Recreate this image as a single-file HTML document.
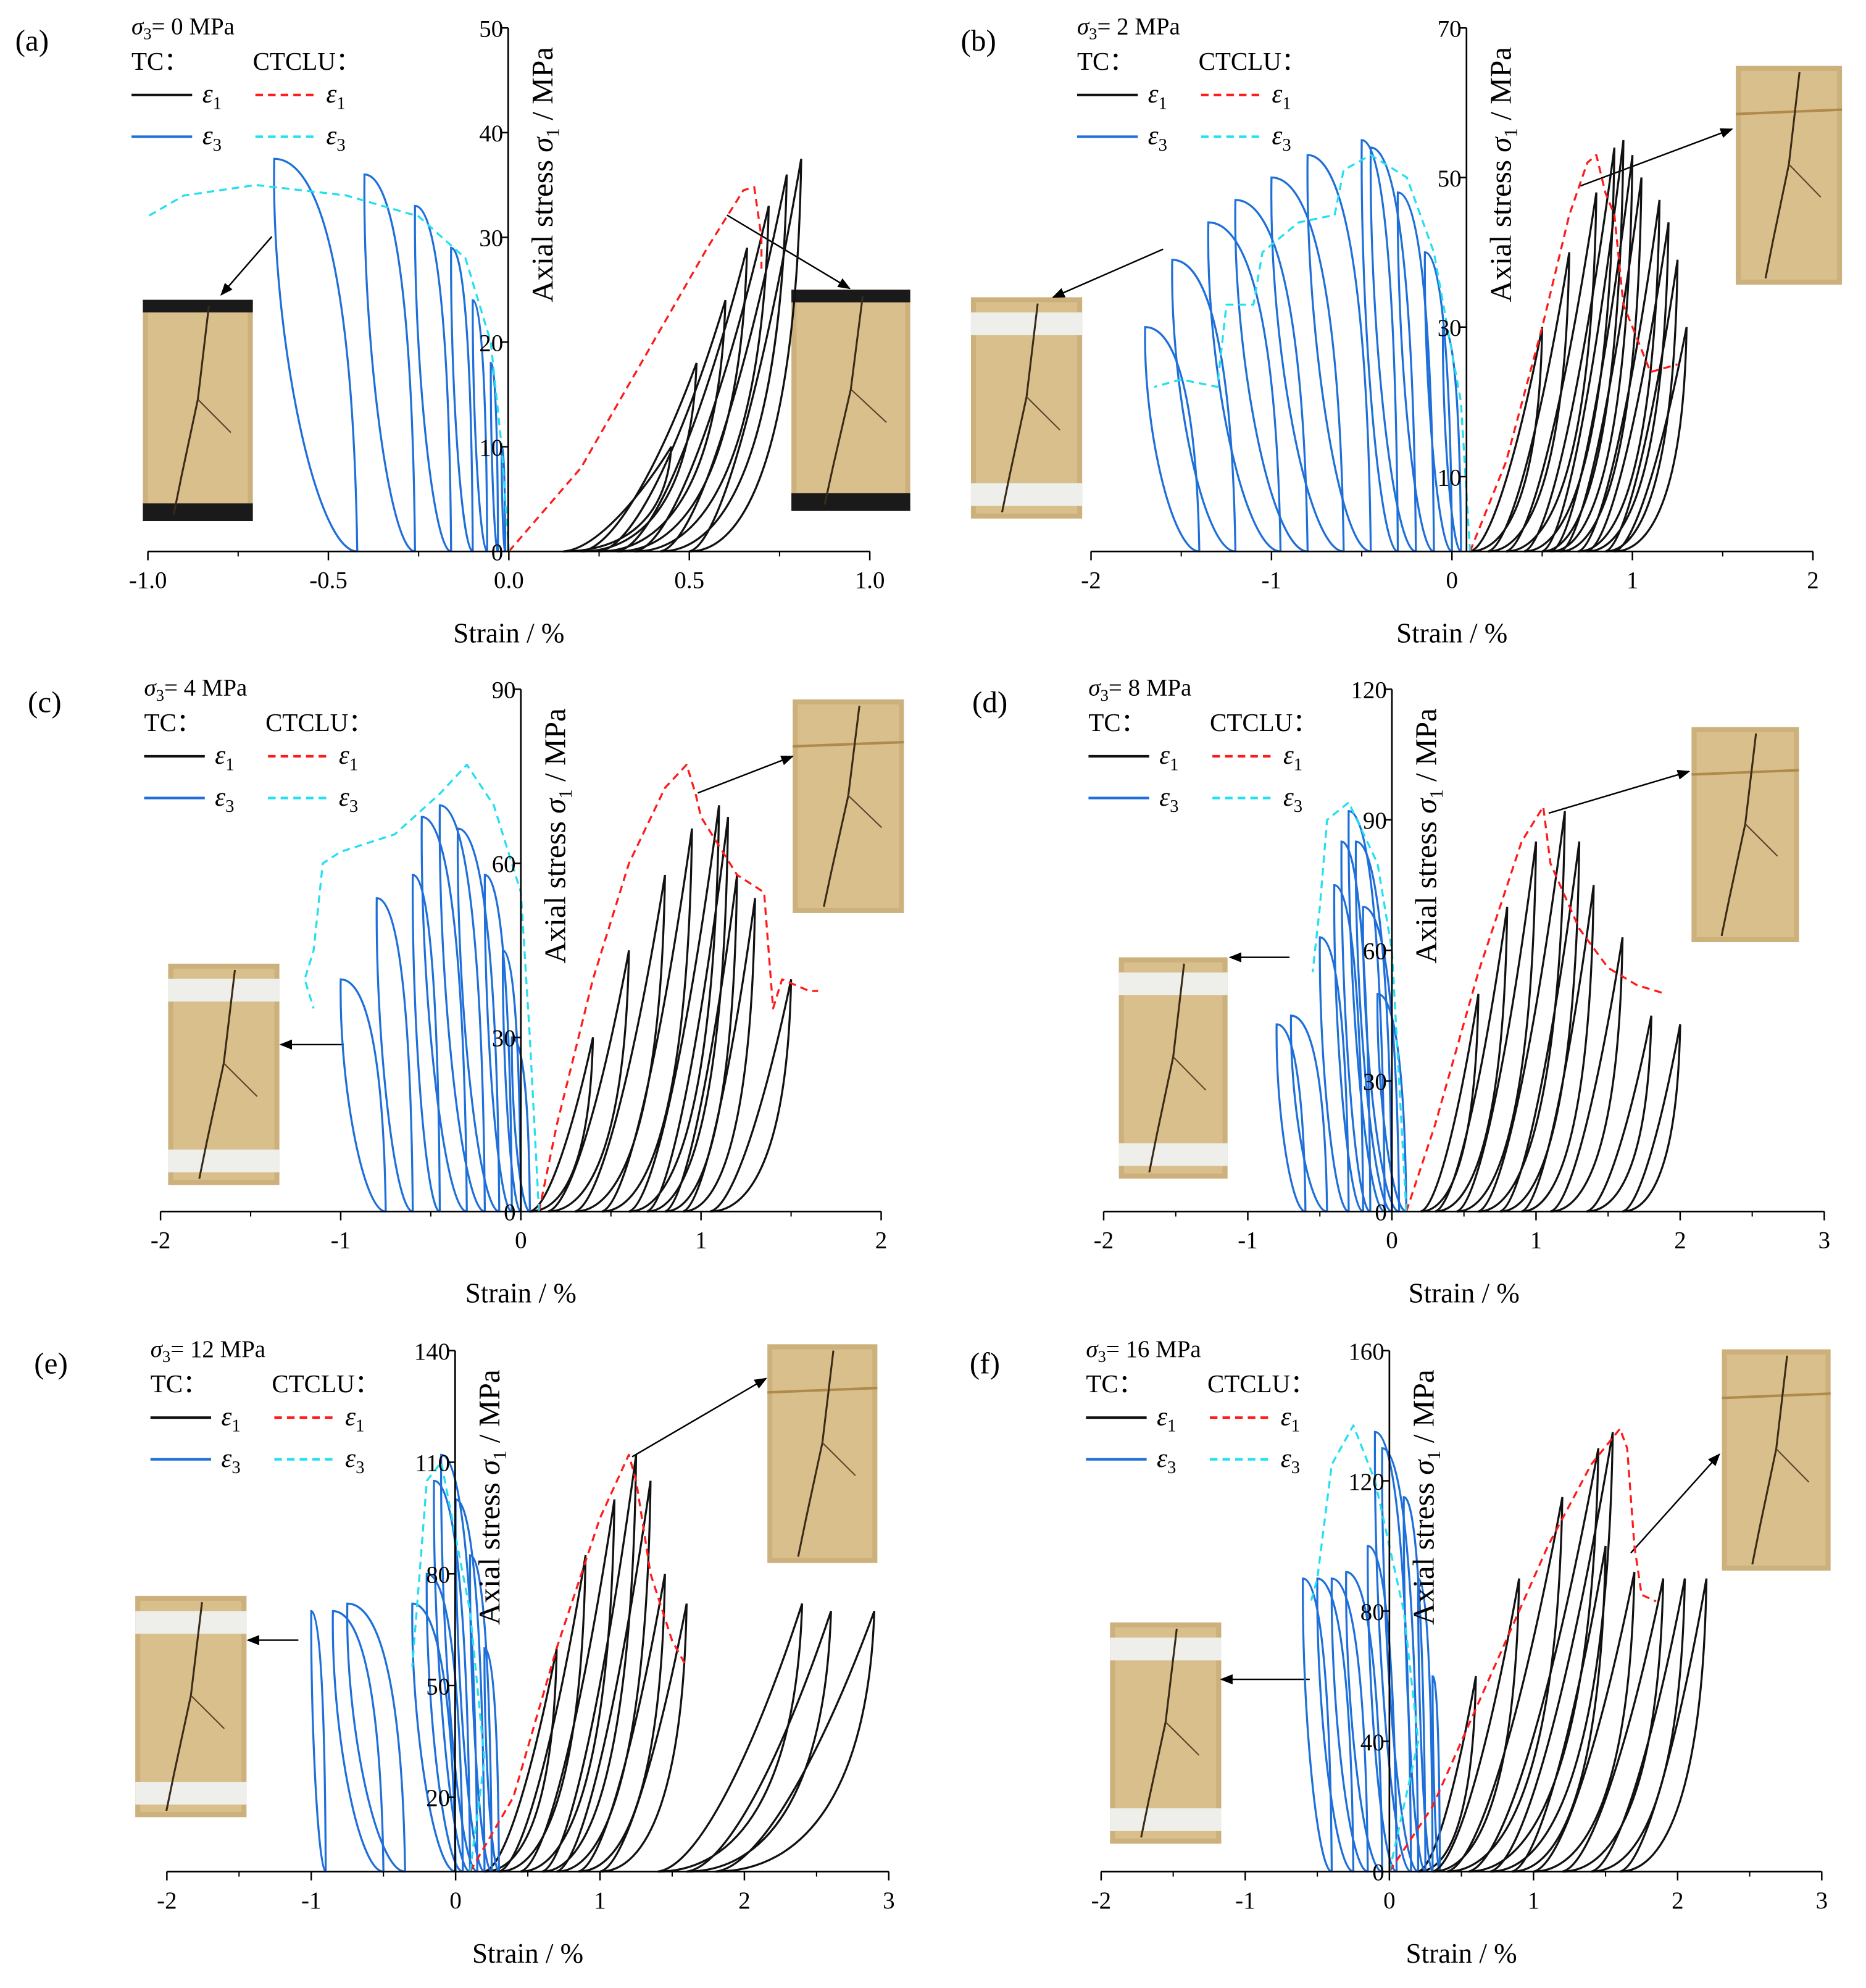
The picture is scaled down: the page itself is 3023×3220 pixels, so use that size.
<!DOCTYPE html>
<html><head><meta charset="utf-8"><style>
html,body{margin:0;padding:0;background:#fff}
svg{display:block}
text{font-family:"Liberation Serif",serif;fill:#000}
</style></head><body>
<svg id="fig" width="3023" height="3220" viewBox="0 0 1476 1572" xmlns="http://www.w3.org/2000/svg"></svg>
<script>
// ---------- data ----------
const a_stress=[10,18,24,29,33,36,37.5];
const a_e1Peak=[0.45,0.52,0.6,0.66,0.72,0.77,0.81];
const a_e1Res=[0.15,0.2,0.25,0.3,0.35,0.42,0.5];
const a_e3Peak=[-0.02,-0.05,-0.1,-0.16,-0.26,-0.4,-0.65];
const a_e3Res=[-0.01,-0.03,-0.06,-0.1,-0.16,-0.26,-0.42];
const a_ctE1=[[0,0],[0.2,8],[0.4,20],[0.55,29],[0.65,34.5],[0.68,34.8],[0.7,30],[0.7,27]];
const a_ctE3=[[0,0],[-0.02,10],[-0.05,20],[-0.12,28],[-0.25,32],[-0.45,34],[-0.7,35],[-0.9,34],[-1.0,32]];

const b_stress=[30,40,48,54,55,53,50,47,44,39,30];
const b_e1Peak=[0.5,0.65,0.8,0.9,0.95,1.0,1.05,1.15,1.2,1.25,1.3];
const b_e1Res=[0.1,0.2,0.3,0.4,0.5,0.55,0.6,0.7,0.75,0.85,0.9];
const b_e3Peak=[-0.05,-0.15,-0.3,-0.45,-0.5,-0.8,-1.0,-1.2,-1.35,-1.55,-1.7];
const b_e3Res=[0.05,0,-0.1,-0.2,-0.3,-0.45,-0.6,-0.8,-0.95,-1.2,-1.4];
const b_ctE1=[[0.1,0],[0.3,12],[0.5,30],[0.65,45],[0.75,52],[0.8,53],[0.85,48],[0.9,45],[0.95,33],[1.0,30],[1.1,24],[1.25,25]];
const b_ctE3=[[0.1,0],[0.05,20],[-0.1,40],[-0.25,50],[-0.45,53],[-0.6,51],[-0.65,45],[-0.85,44],[-1.05,40],[-1.1,33],[-1.25,33],[-1.3,22],[-1.5,23],[-1.65,22]];

const c_stress=[30,45,58,66,70,68,58,54,40];
const c_e1Peak=[0.4,0.6,0.8,0.95,1.1,1.15,1.2,1.3,1.5];
const c_e1Res=[0.05,0.15,0.3,0.45,0.6,0.7,0.8,0.9,1.05];
const c_e3Peak=[-0.05,-0.1,-0.2,-0.35,-0.45,-0.55,-0.6,-0.8,-1.0];
const c_e3Res=[0.05,0,-0.05,-0.12,-0.2,-0.3,-0.45,-0.6,-0.75];
const c_ctE1=[[0.1,0],[0.2,15],[0.4,40],[0.6,60],[0.8,73],[0.92,77],[0.97,72],[1.0,68],[1.2,58],[1.35,55],[1.4,35],[1.45,40],[1.6,38],[1.65,38]];
const c_ctE3=[[0.1,0],[0.05,30],[0,55],[-0.15,70],[-0.3,77],[-0.45,72],[-0.7,65],[-1.0,62],[-1.1,60],[-1.15,45],[-1.2,40],[-1.15,35]];

const d_stress=[50,70,85,92,85,75,63,45,43];
const d_e1Peak=[0.6,0.8,1.0,1.2,1.3,1.4,1.6,1.8,2.0];
const d_e1Res=[0.2,0.3,0.45,0.6,0.75,0.9,1.1,1.35,1.6];
const d_e3Peak=[-0.1,-0.2,-0.25,-0.3,-0.35,-0.4,-0.5,-0.7,-0.8];
const d_e3Res=[0.1,0.05,0,-0.05,-0.15,-0.2,-0.3,-0.45,-0.6];
const d_ctE1=[[0.1,0],[0.3,20],[0.6,55],[0.9,85],[1.05,93],[1.1,80],[1.3,65],[1.5,56],[1.7,52],[1.9,50]];
const d_ctE3=[[0.1,0],[0.05,30],[0,60],[-0.1,80],[-0.3,94],[-0.45,90],[-0.5,70],[-0.55,55]];

const e_stress=[60,85,100,112,105,80,72,72,70,70];
const e_e1Peak=[0.7,0.9,1.1,1.25,1.35,1.45,1.6,2.4,2.6,2.9];
const e_e1Res=[0.2,0.3,0.45,0.6,0.7,0.85,1.0,1.4,1.6,1.8];
const e_e3Peak=[0.2,0.1,0,-0.1,-0.15,-0.2,-0.3,-0.75,-0.85,-1.0];
const e_e3Res=[0.3,0.25,0.2,0.15,0.1,0.05,0,-0.35,-0.5,-0.9];
const e_ctE1=[[0.1,0],[0.4,20],[0.7,60],[1.0,95],[1.2,112],[1.25,105],[1.35,80],[1.5,62],[1.6,55]];
const e_ctE3=[[0.1,0],[0.2,30],[0.1,70],[-0.1,110],[-0.2,105],[-0.25,80],[-0.3,55]];

const f_stress=[60,90,115,130,135,100,92,90,90,90];
const f_e1Peak=[0.6,0.9,1.2,1.45,1.55,1.5,1.7,1.9,2.05,2.2];
const f_e1Res=[0.2,0.3,0.4,0.55,0.7,0.85,1.0,1.2,1.4,1.6];
const f_e3Peak=[0.3,0.2,0.1,-0.05,-0.1,-0.15,-0.3,-0.4,-0.5,-0.6];
const f_e3Res=[0.35,0.3,0.25,0.2,0.15,0.05,-0.05,-0.15,-0.25,-0.4];
const f_ctE1=[[0,0],[0.3,20],[0.7,60],[1.1,100],[1.4,125],[1.6,136],[1.65,130],[1.7,100],[1.75,85],[1.85,83]];
const f_ctE3=[[0,0],[0.2,40],[0.1,80],[-0.1,120],[-0.25,137],[-0.4,125],[-0.5,90],[-0.55,82]];

const xTicksA=["-1.0","-0.5","0.0","0.5","1.0"];
const xTicks22=["-2","-1","0","1","2"];
const xTicks23=["-2","-1","0","1","2","3"];

// ---------- layout ----------
const panels=[
 {id:"a",label:"(a)",s3:"0",ox:0,oy:0,xmin:-1,xmax:1,xstep:0.5,xl:117,xr:688,ya:436,yt:22,ymax:50,yx:402,xt:xTicksA,
  st:a_stress,e1p:a_e1Peak,e1r:a_e1Res,e3p:a_e3Peak,e3r:a_e3Res,c1:a_ctE1,c3:a_ctE3,
  photos:[[113,237,87,175,215,187,175,233,'L'],[626,229,94,175,575,170,672,228,'R']]},
 {id:"b",label:"(b)",s3:"2",ox:748,oy:0,xmin:-2,xmax:2,xstep:1,xl:863,xr:1434,ya:436,yt:22,ymax:70,yx:1160,xt:xTicks22,
  st:b_stress,e1p:b_e1Peak,e1r:b_e1Res,e3p:b_e3Peak,e3r:b_e3Res,c1:b_ctE1,c3:b_ctE3,
  photos:[[768,235,88,175,920,197,833,235,'L'],[1373,52,84,173,1250,147,1370,102,'R']]},
 {id:"c",label:"(c)",s3:"4",ox:10,oy:523,xmin:-2,xmax:2,xstep:1,xl:127,xr:697,ya:958,yt:545,ymax:90,yx:412,xt:xTicks22,
  st:c_stress,e1p:c_e1Peak,e1r:c_e1Res,e3p:c_e3Peak,e3r:c_e3Res,c1:c_ctE1,c3:c_ctE3,
  photos:[[627,553,88,169,552,627,627,598,'R'],[133,762,88,175,272,826,222,826,'L']]},
 {id:"d",label:"(d)",s3:"8",ox:757,oy:523,xmin:-2,xmax:3,xstep:1,xl:873,xr:1443,ya:958,yt:545,ymax:120,yx:1101,xt:xTicks23,
  st:d_stress,e1p:d_e1Peak,e1r:d_e1Res,e3p:d_e3Peak,e3r:d_e3Res,c1:d_ctE1,c3:d_ctE3,
  photos:[[1338,575,85,170,1225,643,1336,610,'R'],[885,757,86,175,1020,757,973,757,'L']]},
 {id:"e",label:"(e)",s3:"12",ox:15,oy:1046,xmin:-2,xmax:3,xstep:1,xl:132,xr:703,ya:1480,yt:1068,ymax:140,yx:360,xt:xTicks23,
  st:e_stress,e1p:e_e1Peak,e1r:e_e1Res,e3p:e_e3Peak,e3r:e_e3Res,c1:e_ctE1,c3:e_ctE3,
  photos:[[607,1063,87,173,500,1152,606,1090,'R'],[107,1262,88,175,236,1297,196,1297,'L']]},
 {id:"f",label:"(f)",s3:"16",ox:755,oy:1046,xmin:-2,xmax:3,xstep:1,xl:871,xr:1441,ya:1480,yt:1068,ymax:160,yx:1099,xt:xTicks23,
  st:f_stress,e1p:f_e1Peak,e1r:f_e1Res,e3p:f_e3Peak,e3r:f_e3Res,c1:f_ctE1,c3:f_ctE3,
  photos:[[1362,1067,86,175,1290,1228,1360,1150,'R'],[878,1283,88,175,1036,1328,966,1328,'L']]}
];
const yTicksA=[0,10,20,30,40,50];
const yTicksB=[10,30,50,70];
const yTicksC=[0,30,60,90];
const yTicksD=[0,30,60,90,120];
const yTicksE=[20,50,80,110,140];
const yTicksF=[0,40,80,120,160];
const yTickSets={a:yTicksA,b:yTicksB,c:yTicksC,d:yTicksD,e:yTicksE,f:yTicksF};

const NS="http://www.w3.org/2000/svg";
const svg=document.getElementById('fig');
function mk(tag,attrs,parent){const e=document.createElementNS(NS,tag);for(const k in attrs)e.setAttribute(k,attrs[k]);(parent||svg).appendChild(e);return e;}
function txt(x,y,s,size,parent,anchor){const t=mk('text',{x:x,y:y,'font-size':size,'text-anchor':anchor||'start'},parent);t.innerHTML=s;return t;}

const defs=mk('defs',{});
const m=mk('marker',{id:'arr',markerWidth:10,markerHeight:8,refX:9,refY:4,orient:'auto',markerUnits:'userSpaceOnUse'},defs);
mk('path',{d:'M0 0 L10 4 L0 8 Z',fill:'#000'},m);

panels.forEach(p=>{
 const g=mk('g',{});
 
 
 const X=v=>p.xl+(v-p.xmin)/(p.xmax-p.xmin)*(p.xr-p.xl);
 const Y=v=>p.ya-v/p.ymax*(p.ya-p.yt);
 p.photos.forEach((ph,i)=>{
  const [x,y,w,h,ax,ay,tx,ty,side]=ph;
  const pg=mk('g',{},g);
  
  
  mk('rect',{x:x,y:y,width:w,height:h,fill:'#cdb17c'},pg);
  mk('rect',{x:x+4,y:y+4,width:w-8,height:h-8,fill:'#d8bf8c'},pg);
  if(p.id==='a'){mk('rect',{x:x,y:y,width:w,height:10,fill:'#1a1a1a'},pg);mk('rect',{x:x,y:y+h-14,width:w,height:14,fill:'#1a1a1a'},pg);}
  else if(side==='L'){mk('rect',{x:x,y:y+12,width:w,height:18,fill:'#eeeeea'},pg);mk('rect',{x:x,y:y+h-28,width:w,height:18,fill:'#eeeeea'},pg);}
  else {mk('line',{x1:x,y1:y+h*0.22,x2:x+w,y2:y+h*0.2,stroke:'#b08a4a','stroke-width':2},pg);}
  mk('path',{d:`M${x+w*0.6} ${y+5} L${x+w*0.5} ${y+h*0.45} L${x+w*0.35} ${y+h*0.8} L${x+w*0.28} ${y+h-5}`,stroke:'#3a2a18','stroke-width':1.5,fill:'none'},pg);
  mk('path',{d:`M${x+w*0.5} ${y+h*0.45} L${x+w*0.8} ${y+h*0.6}`,stroke:'#5a4028','stroke-width':1,fill:'none'},pg);
  const ar=mk('line',{x1:ax,y1:ay,x2:tx,y2:ty,stroke:'#000','stroke-width':1.2,'marker-end':'url(#arr)'},g);
  
  
 });
 for(let i=0;i<p.st.length;i++){
  const s=p.st[i];
  // axial loop
  {
   const x0=X(p.e1r[i]),x1=X(p.e1p[i]),y0=Y(0),y1=Y(s),dx=x1-x0,dy=y1-y0;
   const d=`M${x0} ${y0} C${x0+dx*0.3} ${y0+dy*0.02} ${x1-dx*0.3} ${y0+dy*0.5} ${x1} ${y1} C${x1-dx*0.04} ${y0+dy*0.3} ${x0+dx*0.55} ${y0} ${x0} ${y0}`;
   const path=mk('path',{d:d,stroke:'#111','stroke-width':1.6,fill:'none'},g);
   
   
  }
  // lateral loop (arch shaped)
  {
   const x0=X(p.e3r[i]),x1=X(p.e3p[i]),y0=Y(0),y1=Y(s),dx=x1-x0,dy=y1-y0;
   const d=`M${x0} ${y0} C${x0+dx*0.05} ${y0+dy*0.7} ${x0+dx*0.45} ${y1} ${x1} ${y1} C${x1+dx*0.04} ${y0+dy*0.55} ${x0+dx*0.5} ${y0} ${x0} ${y0}`;
   const path=mk('path',{d:d,stroke:'#1e6fd9','stroke-width':1.6,fill:'none'},g);
   
   
  }
 }
 [[p.c1,'#ff1a1a','ctclu-e1-curve'],[p.c3,'#22e0f0','ctclu-e3-curve']].forEach(([arr,col,nm])=>{
  const d=arr.map((pt,j)=>(j?'L':'M')+X(pt[0]).toFixed(1)+' '+Y(pt[1]).toFixed(1)).join(' ');
  const pl=mk('path',{d:d,stroke:col,'stroke-width':1.6,'stroke-dasharray':'6 4',fill:'none','stroke-linejoin':'round'},g);
  
  
 });
 const xa=mk('line',{x1:p.xl,y1:p.ya,x2:p.xr,y2:p.ya,stroke:'#000','stroke-width':1.3},g);
 
 
 const ya=mk('line',{x1:p.yx,y1:p.ya,x2:p.yx,y2:p.yt,stroke:'#000','stroke-width':1.3},g);
 
 
 p.xt.forEach((lab,k)=>{
  const v=p.xmin+k*p.xstep,x=X(v);
  mk('line',{x1:x,y1:p.ya,x2:x,y2:p.ya+7,stroke:'#000','stroke-width':1.2},g);
  if(k<p.xt.length-1) mk('line',{x1:X(v+p.xstep/2),y1:p.ya,x2:X(v+p.xstep/2),y2:p.ya+4,stroke:'#000','stroke-width':1},g);
  const t=txt(x,p.ya+29,lab,19,g,'middle');
  
  
 });
 yTickSets[p.id].forEach(v=>{
  const y=Y(v);
  mk('line',{x1:p.yx,y1:y,x2:p.yx-6,y2:y,stroke:'#000','stroke-width':1.2},g);
  const t=txt(p.yx-4,y+7,v,19,g,'end');
  
  
 });
 const xt=txt((p.xl+p.xr)/2,p.ya+72,'Strain / %',22,g,'middle');
 
 
 const yt=mk('text',{x:0,y:0,'font-size':24,transform:`translate(${p.yx+35},${p.yt+116}) rotate(-90)`,'text-anchor':'middle'},g);
 yt.innerHTML='Axial stress <tspan font-style="italic">σ</tspan><tspan font-size="15" dy="5">1</tspan><tspan dy="-5"> / MPa</tspan>';
 
 
 const ox=p.ox,oy=p.oy;
 const pl=txt(ox+12,oy+40,p.label,24,g);
 
 
 const lg=mk('g',{},g);
 
 
 const st=mk('text',{x:ox+104,y:oy+27,'font-size':19},lg);
 st.innerHTML='<tspan font-style="italic">σ</tspan><tspan font-size="13" dy="4">3</tspan><tspan dy="-4">= '+p.s3+' MPa</tspan>';
 txt(ox+104,oy+55,'TC：',20,lg);
 txt(ox+200,oy+55,'CTCLU：',20,lg);
 [[75,'#111','','1',0],[75,'#ff1a1a','6 4','1',1],[108,'#1e6fd9','','3',0],[108,'#22e0f0','6 4','3',1]].forEach(([dy,col,da,sub,c])=>{
  const lx=ox+104+c*98;
  const le=mk('line',{x1:lx,y1:oy+dy,x2:lx+48,y2:oy+dy,stroke:col,'stroke-width':2,'stroke-dasharray':da},lg);
  
  
  const t=mk('text',{x:lx+56,y:oy+dy+6,'font-size':21},lg);
  t.innerHTML='<tspan font-style="italic">ε</tspan><tspan font-size="14" dy="5">'+sub+'</tspan>';
 });
});
</script>
</body></html>
